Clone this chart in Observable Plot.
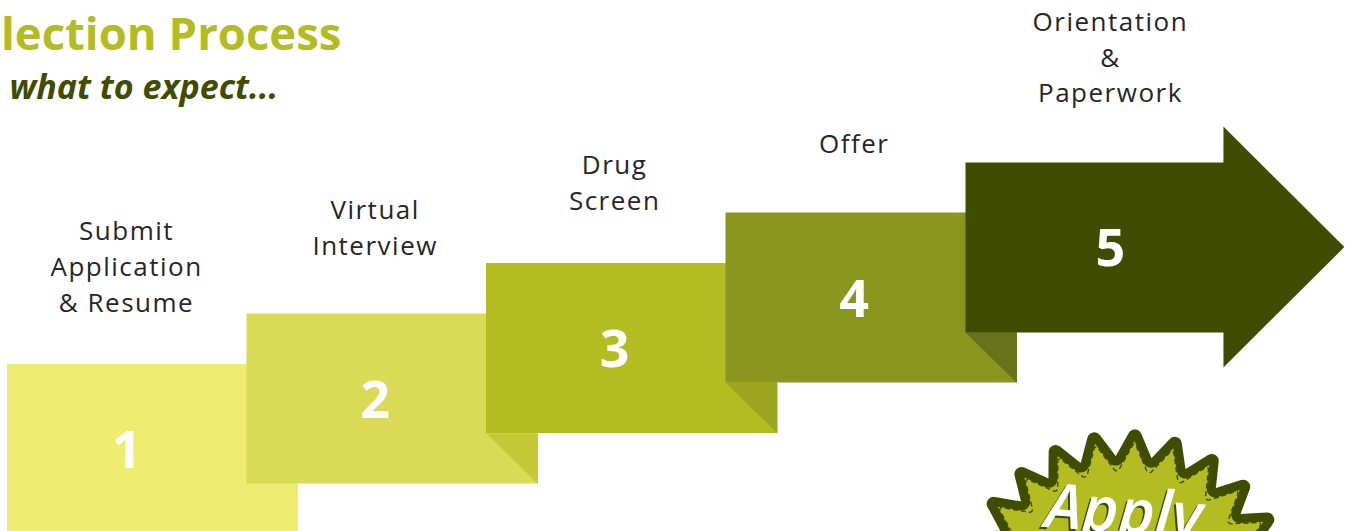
<!DOCTYPE html>
<html><head><meta charset="utf-8">
<script src="https://cdn.jsdelivr.net/npm/d3@7"></script>
<script src="https://cdn.jsdelivr.net/npm/@observablehq/plot@0.6"></script>
<style>html,body{margin:0;padding:0;background:#fff;overflow:hidden}svg{display:block}</style>
</head><body><div id="chart"></div>
<script>
// ---- data ----
const steps = [1, 2, 3, 4, 5];
const stepNames = ["Submit\nApplication\n& Resume", "Virtual\nInterview", "Drug\nScreen", "Offer", "Orientation\n&\nPaperwork"];
const stepColors = ["#eeed71", "#d9db56", "#b3bd22", "#8a961e", "#404c00"];
const foldColors = ["#c4c935", "#9ea61f", "#67721a"];
const title = "Selection Process";
const subtitle = "what to expect...";
const badgeText = "Apply";

// ---- layout (in step units: 1 unit = 239.5px across, 50.5px up) ----
const W = 1.215, H = 3.366;
const centerU = i => i === 0 ? i + 0.497 : i === 4 ? i + 0.605 : i + 0.535;
const labelNudge = i => [-0.06, 0.06, -0.04, 0.08, 0.08][i];

const boxes = steps.slice(0, 4).map((s, i) => ({i, x1: i, x2: i + W, y1: i, y2: i + H, color: stepColors[i]}));

const polys = [];
foldColors.forEach((c, k) => {
  const i = k + 1;
  [[i + 1, i + 1], [i + W, i + 1], [i + W, i]].forEach(([u, v]) => polys.push({id: "fold" + i, u, v, color: c}));
});
{
  const i = 4, headX = i + 1.077, tipX = i + 1.582, headTop = i + 4.079, headBot = i - 0.693, mid = (headTop + headBot) / 2;
  [[i, i + H], [headX, i + H], [headX, headTop], [tipX, mid], [headX, headBot], [headX, i], [i, i]]
    .forEach(([u, v]) => polys.push({id: "arrow", u, v, color: stepColors[4]}));
}

const labels = steps.map((s, i) => ({n: String(s), name: stepNames[i], u: centerU(i), vNum: i + 1.644, vLab: i + 4.475 + labelNudge(i)}));

// rounded starburst symbol
function starburst(points, inner, offsetDeg, roundTip, roundValley) {
  return {
    draw(ctx, size) {
      const R = Math.sqrt(size / Math.PI);
      const n = points * 2, pts = [];
      for (let k = 0; k < n; ++k) {
        const a = (offsetDeg + k * 180 / points) * Math.PI / 180;
        const r = k % 2 === 0 ? R : R * inner;
        pts.push([r * Math.cos(a), -r * Math.sin(a)]);
      }
      const mid = (p, q) => [(p[0] + q[0]) / 2, (p[1] + q[1]) / 2];
      const m0 = mid(pts[n - 1], pts[0]);
      ctx.moveTo(m0[0], m0[1]);
      for (let k = 0; k < n; ++k) {
        const p = pts[k], m = mid(p, pts[(k + 1) % n]);
        ctx.arcTo(p[0], p[1], m[0], m[1], k % 2 === 0 ? roundTip : roundValley);
      }
      ctx.closePath();
    }
  };
}
const burstOuter = starburst(25, 0.80, 86.7, 2.5, 4);
const burstInner = starburst(25, 0.80, 86.7, 2, 3);
const badgeDx = 1125 - 1350, badgeDy = 598 - 531;

const chart = Plot.plot({
  width: 1350, height: 531, margin: 0,
  style: "overflow:hidden;background:#fff;font-family:'Open Sans',sans-serif",
  x: {domain: [-7 / 239.5, 1343 / 239.5], axis: null},
  y: {domain: [3 / 50.5, 534 / 50.5], axis: null},
  color: {type: "identity"},
  marks: [
    Plot.rect(boxes, {x1: "x1", x2: "x2", y1: "y1", y2: "y2", fill: "color"}),
    Plot.line(polys, {x: "u", y: "v", z: "id", fill: "color", stroke: null, curve: "linear-closed"}),
    Plot.text(labels, {x: "u", y: "vNum", text: "n", fill: "#fff", fontSize: 52, fontWeight: 700, fontFamily: "Open Sans"}),
    Plot.text(labels, {x: "u", y: "vLab", text: "name", fill: "#262626", fontSize: 26, fontFamily: "Open Sans", lineAnchor: "bottom", lineHeight: 1.38}),
    Plot.text([title], {frameAnchor: "top-left", dx: 341, dy: 49, textAnchor: "end", lineAnchor: "bottom", fill: "#b3bd22", fontSize: 45.5, fontWeight: 700, fontFamily: "Open Sans"}),
    Plot.text([subtitle], {frameAnchor: "top-left", dx: 9, dy: 98, textAnchor: "start", lineAnchor: "bottom", fill: "#404c00", fontSize: 34, fontWeight: 700, fontStyle: "italic", fontFamily: "Open Sans"}),
    Plot.dot([badgeText], {frameAnchor: "bottom-right", dx: badgeDx, dy: badgeDy, r: 168, symbol: burstOuter, fill: "#b3bd22", stroke: "#404c00", strokeWidth: 9, strokeLinejoin: "round"}),
    Plot.dot([badgeText], {frameAnchor: "bottom-right", dx: badgeDx, dy: badgeDy, r: 157, symbol: burstInner, fill: "none", stroke: "#404c00", strokeWidth: 1.4, strokeDasharray: "5,3"}),
    Plot.text([badgeText], {frameAnchor: "bottom-right", dx: -230, dy: 3, rotate: 4, textAnchor: "middle", lineAnchor: "bottom", fill: "#404c00", fontSize: 62, fontWeight: 600, fontStyle: "italic", fontFamily: "Open Sans"}),
    Plot.text([badgeText], {frameAnchor: "bottom-right", dx: -228, dy: 1, rotate: 4, textAnchor: "middle", lineAnchor: "bottom", fill: "#fff", fontSize: 62, fontWeight: 600, fontStyle: "italic", fontFamily: "Open Sans"})
  ]
});
// widen the step labels' letter spacing, as in the reference
const labelTexts = Array.from(chart.querySelectorAll("text")).filter(t => stepNames.some(n => n.split("\n")[0] === (t.firstChild && t.firstChild.textContent)));
labelTexts.forEach(t => t.setAttribute("letter-spacing", "1.5px"));
document.getElementById("chart").appendChild(chart);
</script>
</body></html>
